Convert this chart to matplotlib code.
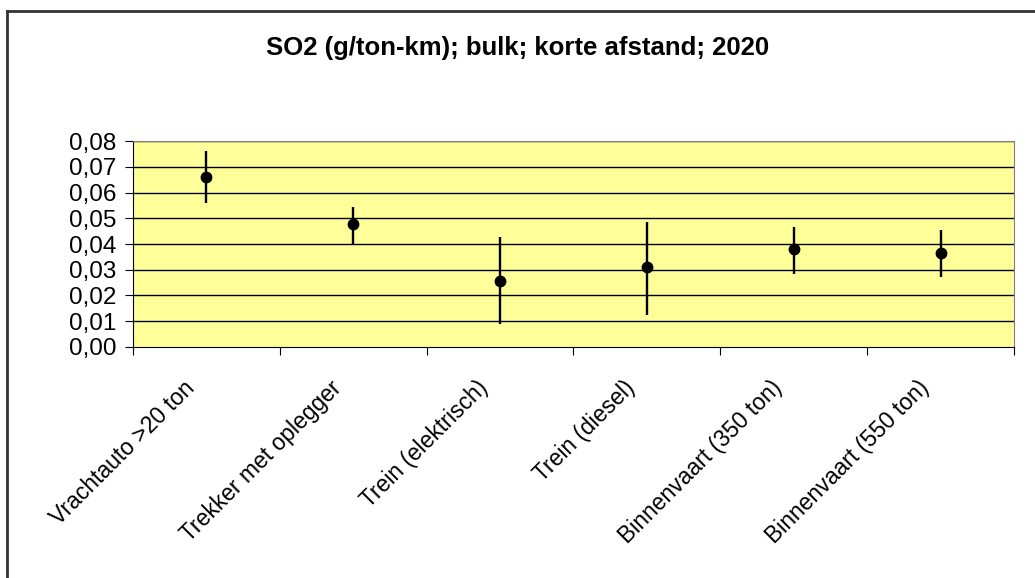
import matplotlib.pyplot as plt
import matplotlib.lines as mlines
import matplotlib.transforms as mtransforms
import numpy as np

plt.rcParams['font.family'] = ['Liberation Sans', 'DejaVu Sans']

categorieen = ["Vrachtauto >20 ton", "Trekker met oplegger", "Trein (elektrisch)",
               "Trein (diesel)", "Binnenvaart (350 ton)", "Binnenvaart (550 ton)"]
waarde = [0.0661, 0.0476, 0.0258, 0.0309, 0.0379, 0.0366]
boven = [0.0761, 0.0544, 0.0428, 0.0487, 0.0467, 0.0454]
onder = [0.0560, 0.0400, 0.0088, 0.0126, 0.0283, 0.0272]
y_ticks = [0.00, 0.01, 0.02, 0.03, 0.04, 0.05, 0.06, 0.07, 0.08]

fig = plt.figure(figsize=(10.35, 5.78), dpi=100)
ax = fig.add_axes([0.1285, 0.3997, 0.8512, 0.3563])
ax.set_facecolor('#FFFF99')

x = np.arange(len(categorieen)) + 0.5
w = np.array(waarde)
err = [w - np.array(onder), np.array(boven) - w]

for t in y_ticks[1:]:
    ax.axhline(t, color='black', linewidth=1, zorder=1)

ax.errorbar(x, w, yerr=err, fmt='o', color='black', ecolor='black',
            elinewidth=1.7, capsize=0, markersize=7.5, zorder=3)

ax.set_xlim(0, len(categorieen))
ax.set_ylim(0, 0.08)
ax.set_yticks(y_ticks)
ax.set_yticklabels([f"{t:.2f}".replace(".", ",") for t in y_ticks], fontsize=17.5)

ax.set_xticks(np.arange(len(categorieen) + 1))
ax.set_xticklabels([])
ax.set_xticks(x, minor=True)
ax.set_xticklabels(categorieen, minor=True, rotation=45, ha='right',
                   rotation_mode='anchor', fontsize=16.5)
ax.tick_params(axis='x', which='minor', length=0, pad=21)
ax.tick_params(axis='x', which='major', length=6, direction='out', color='black')
ax.tick_params(axis='y', length=6, direction='out', color='black', pad=6)

# labels iets naar links schuiven
shift = mtransforms.ScaledTranslation(-17 / 72, 0, fig.dpi_scale_trans)
for lbl in ax.get_xticklabels(minor=True):
    lbl.set_transform(lbl.get_transform() + shift)

for s in ['top', 'right']:
    ax.spines[s].set_color('#808080')
for s in ['left', 'bottom']:
    ax.spines[s].set_color('black')

fig.text(0.5, 1 - 48 / 578, "SO2 (g/ton-km); bulk; korte afstand; 2020",
         ha='center', va='center', fontsize=18.5, fontweight='bold')

# rand van de grafiek (alleen boven en links zichtbaar)
fig.add_artist(mlines.Line2D([7 / 1035, 1.0], [1 - 11 / 578, 1 - 11 / 578],
                             color='#333333', linewidth=2, transform=fig.transFigure))
fig.add_artist(mlines.Line2D([7 / 1035, 7 / 1035], [0.0, 1 - 11 / 578],
                             color='#333333', linewidth=2, transform=fig.transFigure))

fig.savefig("out.png", dpi=100)
